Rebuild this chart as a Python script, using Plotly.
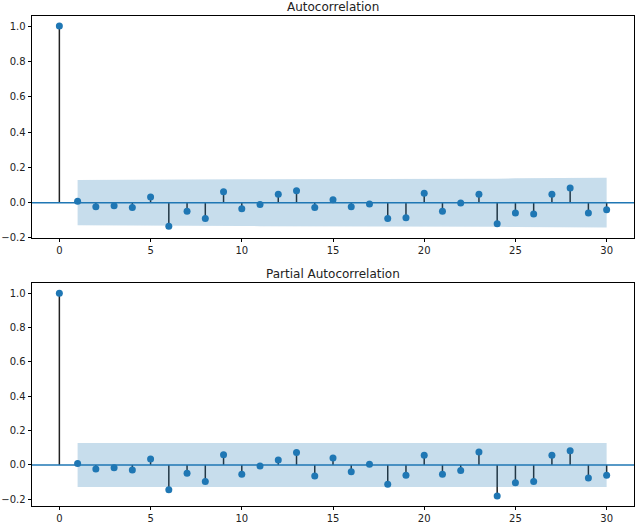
import plotly.graph_objects as go

lags = list(range(0, 31))
acf_vals = [1.0, 0.008, -0.023, -0.017, -0.028, 0.032, -0.134, -0.049, -0.090, 0.062,
            -0.034, -0.011, 0.047, 0.068, -0.028, 0.017, -0.023, -0.008, -0.090, -0.085,
            0.053, -0.049, -0.002, 0.047, -0.120, -0.058, -0.064, 0.047, 0.083, -0.058, -0.040]
acf_band = [0.128, 0.128, 0.128, 0.128, 0.128, 0.128, 0.131, 0.131, 0.132, 0.132,
            0.133, 0.133, 0.133, 0.133, 0.134, 0.134, 0.134, 0.134, 0.135, 0.136,
            0.136, 0.136, 0.136, 0.136, 0.138, 0.139, 0.139, 0.139, 0.140, 0.141]
pacf_vals = [1.0, 0.008, -0.023, -0.017, -0.029, 0.035, -0.144, -0.049, -0.097, 0.060,
             -0.054, -0.006, 0.029, 0.072, -0.064, 0.041, -0.039, 0.004, -0.113, -0.060,
             0.056, -0.054, -0.033, 0.076, -0.181, -0.103, -0.097, 0.056, 0.082, -0.076, -0.060]
pacf_band = [0.128] * 30
titles = ["Autocorrelation", "Partial Autocorrelation"]
xticks = [0, 5, 10, 15, 20, 25, 30]
yticks = [-0.2, 0.0, 0.2, 0.4, 0.6, 0.8, 1.0]

BLUE = "#1f77b4"
fig = go.Figure()

panels = [
    (acf_vals, acf_band, "x", "y"),
    (pacf_vals, pacf_band, "x2", "y2"),
]

for vals, band, xa, ya in panels:
    sx, sy = [], []
    for l, v in zip(lags, vals):
        sx += [l, l, None]
        sy += [0, v, None]
    fig.add_trace(go.Scatter(x=sx, y=sy, mode="lines", line=dict(color="#222222", width=1.5),
                             xaxis=xa, yaxis=ya, showlegend=False, hoverinfo="skip"))
    fig.add_trace(go.Scatter(x=[-1.5, 31.5], y=[0, 0], mode="lines", line=dict(color=BLUE, width=1.5),
                             xaxis=xa, yaxis=ya, showlegend=False, hoverinfo="skip"))
    fig.add_trace(go.Scatter(x=lags, y=vals, mode="markers", marker=dict(color=BLUE, size=7),
                             xaxis=xa, yaxis=ya, showlegend=False))
    bx = lags[1:]
    fig.add_trace(go.Scatter(x=bx, y=[-b for b in band], mode="lines", line=dict(width=0),
                             xaxis=xa, yaxis=ya, showlegend=False, hoverinfo="skip"))
    fig.add_trace(go.Scatter(x=bx, y=band, mode="lines", line=dict(width=0), fill="tonexty",
                             fillcolor="rgba(31,119,180,0.25)",
                             xaxis=xa, yaxis=ya, showlegend=False, hoverinfo="skip"))

axis_common = dict(showline=True, linecolor="black", linewidth=0.8, mirror=True,
                   ticks="outside", ticklen=3.5, tickwidth=0.8, tickcolor="black",
                   showgrid=False, zeroline=False, automargin=False,
                   tickfont=dict(family="DejaVu Sans", size=10, color="#222222"))

fig.update_layout(
    width=637, height=526,
    margin=dict(l=32, r=3, t=16, b=20, autoexpand=False),
    paper_bgcolor="white", plot_bgcolor="white",
    xaxis=dict(domain=[0, 1], range=[-1.5, 31.5], tickvals=xticks, anchor="y", **axis_common),
    yaxis=dict(domain=[0.547, 1.0], range=[-0.2, 1.057], tickvals=yticks, tickformat=".1f",
               anchor="x", **axis_common),
    xaxis2=dict(domain=[0, 1], range=[-1.5, 31.5], tickvals=xticks, anchor="y2", **axis_common),
    yaxis2=dict(domain=[0.0, 0.455], range=[-0.239, 1.059], tickvals=yticks, tickformat=".1f",
                anchor="x2", **axis_common),
    annotations=[
        dict(text=titles[0], x=0.5, y=1.018, xref="paper", yref="paper", showarrow=False,
             xanchor="center", yanchor="middle", font=dict(family="DejaVu Sans", size=12, color="#222222")),
        dict(text=titles[1], x=0.5, y=0.4735, xref="paper", yref="paper", showarrow=False,
             xanchor="center", yanchor="middle", font=dict(family="DejaVu Sans", size=12, color="#222222")),
    ],
)

fig.write_html("out.html", config={"displayModeBar": False},
               post_script="document.body.style.margin='0';document.body.style.overflow='hidden';")
